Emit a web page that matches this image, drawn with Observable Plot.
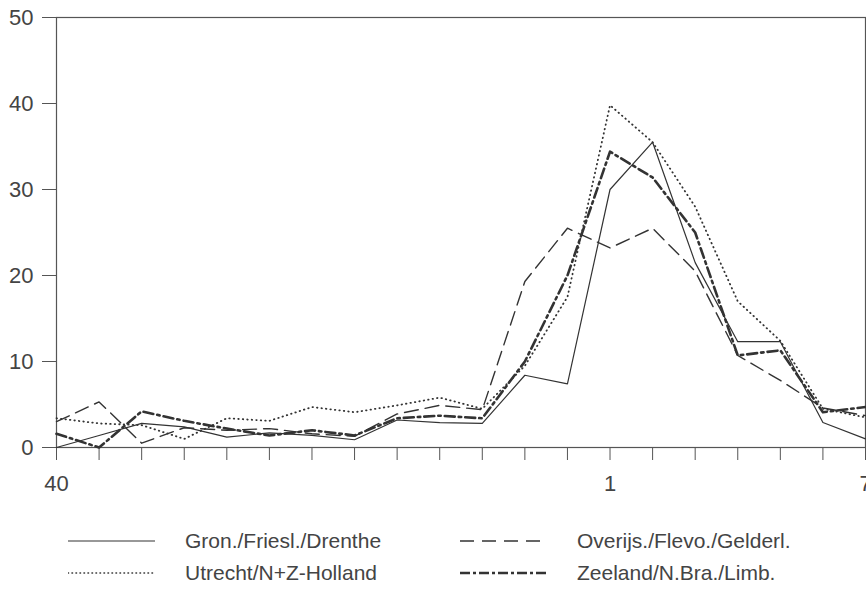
<!DOCTYPE html>
<html>
<head>
<meta charset="utf-8">
<script src="https://cdn.jsdelivr.net/npm/d3@7"></script>
<script src="https://cdn.jsdelivr.net/npm/@observablehq/plot@0.6"></script>
<style>
  html, body { margin: 0; padding: 0; background: #fff; }
  body { width: 866px; height: 593px; position: relative; overflow: hidden; font-family: "Liberation Sans", Arial, sans-serif; }
  #chart { position: absolute; left: 0; top: 0; }
  .leg { position: absolute; display: flex; align-items: center; font-size: 21px; color: #444; white-space: nowrap; }
  .leg svg { display: block; }
</style>
</head>
<body>
<div id="chart"></div>
<div id="legend"></div>
<script>
const weeks = ["40","41","42","43","44","45","46","47","48","49","50","51","52","1","2","3","4","5","6","7"];
const labeledWeeks = ["40","1","7"];
const seriesNames = ["Gron./Friesl./Drenthe", "Overijs./Flevo./Gelderl.", "Utrecht/N+Z-Holland", "Zeeland/N.Bra./Limb."];
const gron    = [0, 1.4, 2.8, 2.4, 1.2, 1.7, 1.4, 0.9, 3.2, 2.9, 2.8, 8.4, 7.4, 30.0, 35.5, 21.5, 12.3, 12.3, 2.9, 1.0];
const overijs = [3.0, 5.3, 0.5, 2.3, 2.0, 2.2, 1.6, 1.3, 3.9, 4.9, 4.4, 19.3, 25.5, 23.2, 25.5, 20.5, 10.7, 7.8, 4.6, 3.7];
const utrecht = [3.4, 2.8, 2.6, 1.0, 3.4, 3.1, 4.7, 4.1, 4.9, 5.8, 4.5, 9.5, 17.5, 39.8, 35.5, 28.0, 17.0, 12.4, 4.5, 3.5];
const zeeland = [1.6, 0, 4.2, 3.1, 2.2, 1.4, 2.0, 1.4, 3.4, 3.7, 3.4, 10.0, 20.0, 34.4, 31.4, 25.0, 10.7, 11.3, 4.1, 4.7];
const yTicks = [0, 10, 20, 30, 40, 50];

const toRows = (vals) => weeks.map((w, i) => ({week: w, value: vals[i]}));
const lineColor = "#333";

const chart = Plot.plot({
  width: 866,
  height: 500,
  marginLeft: 56,
  marginRight: 1,
  marginTop: 17,
  marginBottom: 53,
  style: { fontFamily: "Liberation Sans, Arial, sans-serif", fontSize: "22px", color: "#444", background: "#fff" },
  x: { type: "point", domain: weeks, padding: 0, round: false, label: null },
  y: { domain: [0, 50], label: null },
  marks: [
    Plot.frame({ stroke: "#555", strokeWidth: 1.2 }),
    Plot.axisY({ ticks: yTicks, tickSize: 14, tickPadding: 9, fontSize: 22, stroke: "#555", label: null }),
    Plot.axisX({ ticks: weeks, tickSize: 13, tickPadding: 15, fontSize: 22, stroke: "#555", label: null,
                 tickFormat: d => labeledWeeks.includes(d) ? d : "" }),
    Plot.line(toRows(gron),    { x: "week", y: "value", stroke: lineColor, strokeWidth: 1.2 }),
    Plot.line(toRows(overijs), { x: "week", y: "value", stroke: lineColor, strokeWidth: 1.4, strokeDasharray: "14,7" }),
    Plot.line(toRows(utrecht), { x: "week", y: "value", stroke: lineColor, strokeWidth: 1.8, strokeDasharray: "0.5,4", strokeLinecap: "round" }),
    Plot.line(toRows(zeeland), { x: "week", y: "value", stroke: lineColor, strokeWidth: 2.6, strokeDasharray: "10,4,2.5,4" })
  ]
});
document.getElementById("chart").appendChild(chart);

// Legend (HTML below the SVG)
const legendItems = [
  { name: seriesNames[0], left: 68, top: 541, dash: null, w: 1.2, cap: "butt" },
  { name: seriesNames[1], left: 460, top: 541, dash: "14,8", w: 1.4, cap: "butt" },
  { name: seriesNames[2], left: 68, top: 573, dash: "0.5,3.5", w: 1.6, cap: "round" },
  { name: seriesNames[3], left: 460, top: 573, dash: "10,3,3,3", w: 2.6, cap: "butt" }
];
const legend = document.getElementById("legend");
legendItems.forEach(it => {
  const div = document.createElement("div");
  div.className = "leg";
  div.style.left = it.left + "px";
  div.style.top = (it.top - 14) + "px";
  div.style.height = "28px";
  const sw = 87;
  div.innerHTML = `<svg width="${sw}" height="28"><line x1="0" x2="${sw}" y1="14" y2="14" stroke="${lineColor}" stroke-width="${it.w}" stroke-linecap="${it.cap}" ${it.dash ? `stroke-dasharray="${it.dash}"` : ""}/></svg><span style="margin-left:30px">${it.name}</span>`;
  legend.appendChild(div);
});
</script>
</body>
</html>
